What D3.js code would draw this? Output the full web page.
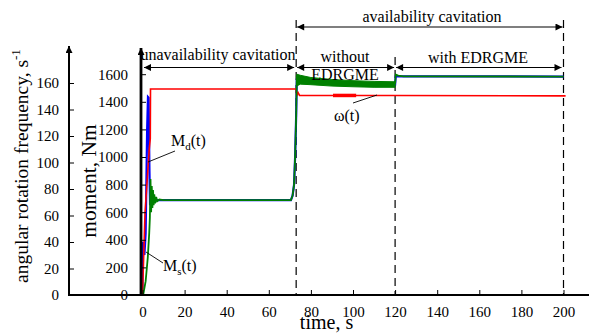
<!DOCTYPE html>
<html>
<head>
<meta charset="utf-8">
<script src="https://cdn.jsdelivr.net/npm/d3@7"></script>
<style>
  body { margin: 0; background: #fff; }
</style>
</head>
<body>
<div id="chart"></div>
<script>
// time ticks (s), moment ticks (Nm), angular frequency ticks (s^-1)
var timeTicks = [0, 20, 40, 60, 80, 100, 120, 140, 160, 180, 200];
var momentTicks = [0, 200, 400, 600, 800, 1000, 1200, 1400, 1600];
var omegaTicks = [0, 20, 40, 60, 80, 100, 120, 140, 160];

// stage boundaries (s)
var stageBounds = [73, 120, 200];

// omega(t), s^-1  [time, value]
var omegaPts = [[0, 0], [1.2, 62], [3.2, 110], [3.7, 118], [3.8, 155.5], [73, 155.5], [73.3, 150.6],
                [73.9, 152.8], [74.6, 150.6], [120, 150.6], [201, 150.3]];
var omegaRipple = [[90.5, 150.6], [101.5, 150.6]];

// Md(t), Nm
var mdPts = [[0, 0], [0.05, 330], [0.25, 385], [0.5, 330], [0.9, 290], [1.5, 450], [2.2, 1200], [2.6, 1435],
             [2.9, 1430], [3.3, 900], [3.6, 650], [4.2, 700], [5, 688], [70.5, 688], [71.3, 720], [72, 800],
             [72.5, 1000], [73, 1300], [73.3, 1560], [80, 1550], [120, 1525], [120.3, 1585], [200, 1583]];

// Ms(t), Nm
var msPts = [[0.3, 0], [1.5, 100], [2.5, 270], [3.2, 450], [3.5, 560], [3.8, 840], [4.1, 600], [4.4, 790],
             [4.7, 630], [5, 760], [5.3, 650], [5.6, 730], [6, 665], [6.5, 710], [7, 680], [8, 692],
             [10, 688], [70.5, 688], [71.3, 720], [72, 800], [72.5, 1000], [73, 1300], [73.3, 1590]];
var msTail = [[120, 1530], [120.3, 1597], [121.5, 1590], [124, 1584], [200, 1583]];

// Ms(t) oscillation band without EDRGME
var bandTime = [73.3, 75, 80, 90, 100, 110, 120];
var bandUpper = [1600, 1592, 1576, 1562, 1553, 1548, 1545];
var bandLower = [1515, 1528, 1524, 1514, 1509, 1505, 1505];

var width = 589, height = 334;

var svg = d3.select("#chart").append("svg")
    .attr("width", width)
    .attr("height", height);

var defs = svg.append("defs");
defs.append("marker")
    .attr("id", "arr")
    .attr("viewBox", "0 0 10 10")
    .attr("refX", 10).attr("refY", 5)
    .attr("markerUnits", "userSpaceOnUse")
    .attr("markerWidth", 9).attr("markerHeight", 7)
    .attr("orient", "auto-start-reverse")
    .append("path").attr("d", "M0,0 L10,5 L0,10 Z").attr("fill", "#000");

var x = d3.scaleLinear().domain([0, 200]).range([142.5, 563.5]);
var yM = d3.scaleLinear().domain([0, 1600]).range([295, 74.2]);
var yW = d3.scaleLinear().domain([0, 160]).range([295, 83]);

// dashed stage lines
svg.selectAll(".stage").data(stageBounds).enter().append("line")
    .attr("x1", function(d) { return x(d); })
    .attr("x2", function(d) { return x(d); })
    .attr("y1", function(d) { return d === 120 ? 57 : 20; })
    .attr("y2", 295)
    .attr("stroke", "#000").attr("stroke-width", 1.2)
    .attr("stroke-dasharray", "8,5");

// series
var lineM = d3.line().x(function(d) { return x(d[0]); }).y(function(d) { return yM(d[1]); });
var lineW = d3.line().x(function(d) { return x(d[0]); }).y(function(d) { return yW(d[1]); });

svg.append("path").attr("d", lineM(mdPts))
    .attr("fill", "none").attr("stroke", "#0000ff").attr("stroke-width", 2.2);

svg.append("path").attr("d", lineW(omegaPts))
    .attr("fill", "none").attr("stroke", "#ff0000").attr("stroke-width", 1.6);
svg.append("path").attr("d", lineW(omegaRipple))
    .attr("fill", "none").attr("stroke", "#ff0000").attr("stroke-width", 3.5);

svg.append("path").attr("d", lineM(msPts))
    .attr("fill", "none").attr("stroke", "#008000").attr("stroke-width", 1.8);
svg.append("path").attr("d", lineM(msTail))
    .attr("fill", "none").attr("stroke", "#008000").attr("stroke-width", 1.8);

var band = d3.area()
    .x(function(d, i) { return x(bandTime[i]); })
    .y0(function(d, i) { return yM(bandLower[i]); })
    .y1(function(d, i) { return yM(bandUpper[i]); });
svg.append("path").attr("d", band(bandTime))
    .attr("fill", "#008000").attr("stroke", "#008000").attr("stroke-width", 1);

// axes
var fmt = d3.format("d");
var xAxis = d3.axisBottom(x).tickValues(timeTicks).tickFormat(fmt)
    .tickSize(-5).tickSizeOuter(0).tickPadding(11);
var gx = svg.append("g").attr("transform", "translate(0,295)").call(xAxis)
    .attr("font-size", 15);
gx.select(".domain").remove();
svg.append("line").attr("x1", 68).attr("x2", 589).attr("y1", 295).attr("y2", 295)
    .attr("stroke", "#000").attr("stroke-width", 2.2);

var mAxis = d3.axisLeft(yM).tickValues(momentTicks).tickFormat(fmt)
    .tickSize(-5).tickSizeOuter(0).tickPadding(13);
var gm = svg.append("g").attr("transform", "translate(141,0)").call(mAxis)
    .attr("font-size", 15);
gm.select(".domain").remove();
svg.append("line").attr("x1", 141).attr("x2", 141).attr("y1", 296).attr("y2", 48)
    .attr("stroke", "#000").attr("stroke-width", 2.8).attr("marker-end", "url(#arr)");

var wAxis = d3.axisLeft(yW).tickValues(omegaTicks).tickFormat(fmt)
    .tickSize(-5).tickSizeOuter(0).tickPadding(10);
var gw = svg.append("g").attr("transform", "translate(69,0)").call(wAxis)
    .attr("font-size", 15);
gw.select(".domain").remove();
svg.append("line").attr("x1", 69).attr("x2", 69).attr("y1", 296).attr("y2", 46)
    .attr("stroke", "#000").attr("stroke-width", 2).attr("marker-end", "url(#arr)");

// axis titles
var wTitle = svg.append("text")
    .attr("transform", "translate(28,166) rotate(-90)")
    .attr("text-anchor", "middle").attr("font-size", 19.5);
wTitle.append("tspan").text("angular rotation frequency, s");
wTitle.append("tspan").attr("dy", -8).attr("font-size", 13).text("-1");

svg.append("text")
    .attr("transform", "translate(96,181) rotate(-90)")
    .attr("text-anchor", "middle").attr("font-size", 21.5)
    .text("moment, Nm");

svg.append("text").attr("x", 326.5).attr("y", 329)
    .attr("text-anchor", "middle").attr("font-size", 20)
    .text("time, s");

// stage annotations
function doubleArrow(x1, x2, y) {
  svg.append("line").attr("x1", x1).attr("x2", x2).attr("y1", y).attr("y2", y)
      .attr("stroke", "#000").attr("stroke-width", 1.2)
      .attr("marker-start", "url(#arr)").attr("marker-end", "url(#arr)");
}
doubleArrow(x(73) + 1, x(200) - 1, 27);
doubleArrow(144, x(73) - 2, 67.5);
doubleArrow(x(73) + 1, x(120) - 1, 67.5);
doubleArrow(x(120) + 1, x(200) - 2, 67.5);

function label(txt, cx, cy, size) {
  svg.append("text").attr("x", cx).attr("y", cy)
      .attr("text-anchor", "middle").attr("font-size", size).text(txt);
}
label("availability cavitation", 432, 22, 16);
label("unavailability cavitation", 218, 60, 16);
label("without", 345, 62, 16);
label("EDRGME", 345, 80, 16);
label("with EDRGME", 478, 63, 16);

// series labels with leader lines
function leader(x1, y1, x2, y2) {
  svg.append("line").attr("x1", x1).attr("y1", y1).attr("x2", x2).attr("y2", y2)
      .attr("stroke", "#000").attr("stroke-width", 0.9);
}
leader(175, 151, 148, 162);
leader(163, 263, 146, 252);
leader(353, 103, 377, 95);

var md = svg.append("text").attr("x", 171).attr("y", 146).attr("font-size", 16);
md.append("tspan").text("M");
md.append("tspan").attr("dy", 4).attr("font-size", 11).text("d");
md.append("tspan").attr("dy", -4).text("(t)");

var ms = svg.append("text").attr("x", 163).attr("y", 271).attr("font-size", 16);
ms.append("tspan").text("M");
ms.append("tspan").attr("dy", 4).attr("font-size", 11).text("s");
ms.append("tspan").attr("dy", -4).text("(t)");

svg.append("text").attr("x", 334).attr("y", 121).attr("font-size", 16).text("ω(t)");

// serif face on every text
svg.selectAll("text").style("font-family", "'Liberation Serif'").style("fill", "#000");
</script>
</body>
</html>
